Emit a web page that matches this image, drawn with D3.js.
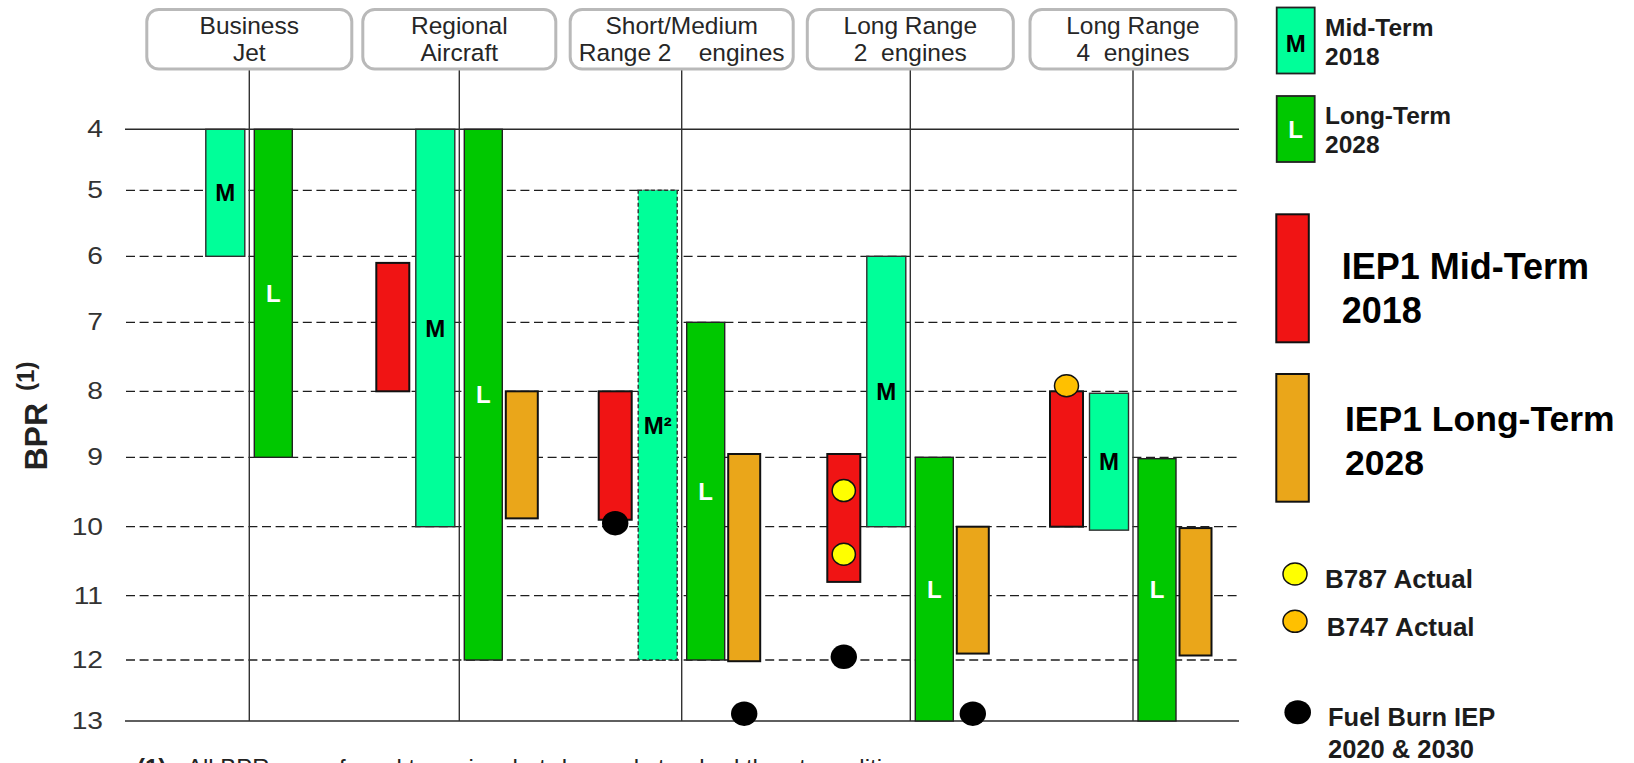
<!DOCTYPE html>
<html><head><meta charset="utf-8">
<script src="https://cdn.jsdelivr.net/npm/d3@7"></script>
<style>html,body{margin:0;padding:0;background:#fff;overflow:hidden}</style>
</head><body>
<svg id="chart" width="1634" height="763"></svg>
<script>
// ---------- DATA ----------
const categories = ["Business Jet", "Regional Aircraft", "Short/Medium Range 2 engines", "Long Range 2 engines", "Long Range 4 engines"];
const categoryLines = [["Business", "Jet"], ["Regional", "Aircraft"], ["Short/Medium", "Range 2    engines"], ["Long Range", "2  engines"], ["Long Range", "4  engines"]];
const bprTicks = [4, 5, 6, 7, 8, 9, 10, 11, 12, 13];
// BPR ranges [from, to] per category (null = no bar)
const midTerm2018 = [[4, 6], [4, 10], [5, 12], [6, 10], [8.03, 10.05]];
const midTermLabels = ["M", "M", "M²", "M", "M"];
const longTerm2028 = [[4, 9], [4, 12], [7, 12], [9, 13], [9.02, 13]];
const longTermLabels = ["L", "L", "L", "L", "L"];
const iep1MidTerm2018 = [null, [6.1, 8], [8, 9.9], [8.95, 10.8], [8, 10]];
const iep1LongTerm2028 = [null, [8, 9.88], [8.95, 12.02], [10, 11.9], [10.02, 11.93]];
const b787Actual = [
  {category: "Long Range 2 engines", slot: "iep1Mid", bpr: 9.48},
  {category: "Long Range 2 engines", slot: "iep1Mid", bpr: 10.4}
];
const b747Actual = [
  {category: "Long Range 4 engines", slot: "iep1Mid", bpr: 7.92}
];
const fuelBurnIEP = [
  {category: "Short/Medium Range 2 engines", slot: "iep1Mid", bpr: 9.95},
  {category: "Short/Medium Range 2 engines", slot: "iep1Long", bpr: 12.88},
  {category: "Long Range 2 engines", slot: "iep1Mid", bpr: 11.95},
  {category: "Long Range 2 engines", slot: "iep1Long", bpr: 12.88}
];
const footnote = "All BPR are referred to cruise, hot-day and standard thrust conditions";

// ---------- LAYOUT ----------
const W = 1634, H = 763;
const plotLeft = 125, plotRight = 1239;
const svg = d3.select("#chart");
svg.append("rect").attr("width", W).attr("height", H).attr("fill", "#fff");

const x = d3.scaleOrdinal().domain(categories).range([249.3, 459.3, 681.7, 910.3, 1133]);
const slots = ["iep1Mid", "mid", "long", "iep1Long"];
const slotOffset = d3.scaleOrdinal().domain(slots).range([-66.5, -24, 24, 62.5]);
const slotWidth = d3.scaleOrdinal().domain(slots).range([33, 39, 38, 32]);
const y = d3.scaleLinear().domain(bprTicks).range([129.3, 190.3, 256.3, 322.3, 391.3, 457.3, 526.7, 595.7, 660, 721]);
const boxWidth = d3.scaleOrdinal().domain(categories).range([205, 193, 223, 206, 206]);

const fills = {mid: "#00FF99", long: "#00C800", iep1Mid: "#F01414", iep1Long: "#EAA61A"};
const strokes = {mid: "#2e2e2e", long: "#222", iep1Mid: "#111", iep1Long: "#111"};
const strokeW = {mid: 1.4, long: 1.4, iep1Mid: 2, iep1Long: 2};

// ---------- GRID ----------
const grid = svg.append("g");
grid.selectAll("line.dash").data(bprTicks.slice(1, -1)).join("line")
  .attr("x1", plotLeft + 1).attr("x2", plotRight)
  .attr("y1", d => y(d)).attr("y2", d => y(d))
  .attr("stroke", "#1e1e1e").attr("stroke-width", 1.3).attr("stroke-dasharray", "9,4.6");
grid.selectAll("line.solid").data([bprTicks[0], bprTicks[bprTicks.length - 1]]).join("line")
  .attr("x1", plotLeft).attr("x2", plotRight)
  .attr("y1", d => y(d)).attr("y2", d => y(d))
  .attr("stroke", "#2a2a2a").attr("stroke-width", 1.5);

// vertical category lines
svg.append("g").selectAll("line").data(categories).join("line")
  .attr("x1", d => x(d)).attr("x2", d => x(d))
  .attr("y1", 68).attr("y2", y(13))
  .attr("stroke", "#333").attr("stroke-width", 1.4);

// ---------- Y AXIS ----------
const yAxis = svg.append("g").attr("transform", "translate(103,0)")
  .call(d3.axisLeft(y).tickValues(bprTicks).tickSize(0).tickPadding(0).tickFormat(d3.format("d")));
yAxis.select(".domain").remove();
yAxis.selectAll("text")
  .attr("font-family", "'Liberation Sans', Arial, sans-serif")
  .attr("font-size", 23.5).attr("fill", "#333")
  .attr("transform", "scale(1.2,1)");

const bprLabel = svg.append("text")
  .attr("transform", "translate(47.3,470.5) rotate(-90)")
  .attr("font-family", "'Liberation Sans', Arial, sans-serif")
  .attr("font-weight", "bold").attr("fill", "#222");
bprLabel.append("tspan").attr("font-size", 32).text("BPR");
bprLabel.append("tspan").attr("font-size", 24).attr("dx", 12).attr("dy", -13.6).text("(1)");

// ---------- BARS ----------
const bars = [];
categories.forEach((c, i) => {
  if (iep1MidTerm2018[i]) bars.push({category: c, slot: "iep1Mid", range: iep1MidTerm2018[i]});
  if (midTerm2018[i]) bars.push({category: c, slot: "mid", range: midTerm2018[i], label: midTermLabels[i]});
  if (longTerm2028[i]) bars.push({category: c, slot: "long", range: longTerm2028[i], label: longTermLabels[i]});
  if (iep1LongTerm2028[i]) bars.push({category: c, slot: "iep1Long", range: iep1LongTerm2028[i]});
});

const barG = svg.append("g");
barG.selectAll("rect").data(bars).join("rect")
  .attr("x", d => x(d.category) + slotOffset(d.slot) - slotWidth(d.slot) / 2)
  .attr("width", d => slotWidth(d.slot))
  .attr("y", d => y(d.range[0]))
  .attr("height", d => y(d.range[1]) - y(d.range[0]))
  .attr("fill", d => fills[d.slot])
  .attr("stroke", d => strokes[d.slot])
  .attr("stroke-width", d => strokeW[d.slot])
  .attr("stroke-dasharray", d => (d.label && d.label.includes("²")) ? "4,2.5" : null);

barG.selectAll("text").data(bars.filter(d => d.label)).join("text")
  .attr("x", d => x(d.category) + slotOffset(d.slot))
  .attr("y", d => (y(d.range[0]) + y(d.range[1])) / 2)
  .attr("dy", "0.36em")
  .attr("text-anchor", "middle")
  .attr("font-family", "'Liberation Sans', Arial, sans-serif")
  .attr("font-weight", "bold").attr("font-size", 24)
  .attr("fill", d => d.slot === "long" ? "#fff" : "#000")
  .text(d => d.label);

// ---------- DOTS ----------
const dotG = svg.append("g");
dotG.selectAll("ellipse.fb").data(fuelBurnIEP).join("ellipse")
  .attr("cx", d => x(d.category) + slotOffset(d.slot))
  .attr("cy", d => y(d.bpr))
  .attr("rx", 13.2).attr("ry", 12.2).attr("fill", "#000");
dotG.selectAll("ellipse.b787").data(b787Actual).join("ellipse")
  .attr("cx", d => x(d.category) + slotOffset(d.slot))
  .attr("cy", d => y(d.bpr))
  .attr("rx", 11.6).attr("ry", 11).attr("fill", "#FFFF00")
  .attr("stroke", "#111").attr("stroke-width", 1.5);
dotG.selectAll("ellipse.b747").data(b747Actual).join("ellipse")
  .attr("cx", d => x(d.category) + slotOffset(d.slot))
  .attr("cy", d => y(d.bpr))
  .attr("rx", 12).attr("ry", 11).attr("fill", "#FFC000")
  .attr("stroke", "#111").attr("stroke-width", 1.5);

// ---------- CATEGORY BOXES ----------
const boxG = svg.append("g").selectAll("g").data(categories).join("g");
boxG.append("rect")
  .attr("x", d => x(d) - boxWidth(d) / 2).attr("width", d => boxWidth(d))
  .attr("y", 9.5).attr("height", 59.5).attr("rx", 12)
  .attr("fill", "#fff").attr("stroke", "#b9b9b9").attr("stroke-width", 3);
boxG.each(function(d, i) {
  const g = d3.select(this);
  categoryLines[i].forEach((line, j) => {
    g.append("text")
      .attr("x", x(d)).attr("y", j === 0 ? 33.5 : 60.5)
      .attr("text-anchor", "middle")
      .attr("font-family", "'Liberation Sans', Arial, sans-serif")
      .attr("font-size", 24.5).attr("fill", "#262626")
      .style("white-space", "pre")
      .text(line);
  });
});

// ---------- LEGEND ----------
const lg = svg.append("g").attr("font-family", "'Liberation Sans', Arial, sans-serif").attr("font-weight", "bold");
function lgText(tx, ty, size, txt, fill) {
  lg.append("text").attr("x", tx).attr("y", ty).attr("font-size", size).attr("fill", fill || "#1c1c1c").text(txt);
}
lg.append("rect").attr("x", 1276.7).attr("y", 7.5).attr("width", 38).attr("height", 66)
  .attr("fill", fills.mid).attr("stroke", "#222").attr("stroke-width", 1.8);
lg.append("text").attr("x", 1295.7).attr("y", 43).attr("dy", "0.36em").attr("text-anchor", "middle")
  .attr("font-size", 24).attr("fill", "#000").text("M");
lgText(1325, 35.7, 24.5, "Mid-Term");
lgText(1325, 65, 24.5, "2018");

lg.append("rect").attr("x", 1276.7).attr("y", 96).attr("width", 38).attr("height", 66)
  .attr("fill", fills.long).attr("stroke", "#222").attr("stroke-width", 1.8);
lg.append("text").attr("x", 1295.7).attr("y", 129).attr("dy", "0.36em").attr("text-anchor", "middle")
  .attr("font-size", 24).attr("fill", "#fff").text("L");
lgText(1325, 124, 24.5, "Long-Term");
lgText(1325, 153.3, 24.5, "2028");

lg.append("rect").attr("x", 1276.3).attr("y", 214.3).attr("width", 32.5).attr("height", 128)
  .attr("fill", fills.iep1Mid).attr("stroke", "#111").attr("stroke-width", 2);
lgText(1341.7, 279.3, 36, "IEP1 Mid-Term", "#000");
lgText(1341.7, 322.7, 36, "2018", "#000");

lg.append("rect").attr("x", 1276.3).attr("y", 374).attr("width", 32.5).attr("height", 127.7)
  .attr("fill", fills.iep1Long).attr("stroke", "#111").attr("stroke-width", 2);
lgText(1345, 431, 35.5, "IEP1 Long-Term", "#000");
lgText(1345, 475, 35.5, "2028", "#000");

lg.append("ellipse").attr("cx", 1295).attr("cy", 574).attr("rx", 12).attr("ry", 11)
  .attr("fill", "#FFFF00").attr("stroke", "#111").attr("stroke-width", 1.5);
lgText(1325, 588, 26, "B787 Actual");
lg.append("ellipse").attr("cx", 1295).attr("cy", 621.3).attr("rx", 12).attr("ry", 11)
  .attr("fill", "#FFC000").attr("stroke", "#111").attr("stroke-width", 1.5);
lgText(1326.7, 636.3, 26, "B747 Actual");
lg.append("ellipse").attr("cx", 1297.7).attr("cy", 712.3).attr("rx", 13.3).attr("ry", 12).attr("fill", "#000");
lgText(1328, 726.3, 25.5, "Fuel Burn IEP");
lgText(1328, 758, 25.5, "2020 & 2030");

// ---------- FOOTNOTE (cut by the frame, as in the source) ----------
const fn = svg.append("text").attr("x", 137).attr("y", 776)
  .attr("font-family", "'Liberation Sans', Arial, sans-serif").attr("font-size", 24).attr("fill", "#222")
  .style("white-space", "pre");
fn.append("tspan").attr("font-weight", "bold").text("(1)");
fn.append("tspan").attr("x", 187).text(footnote);
</script>
</body></html>
